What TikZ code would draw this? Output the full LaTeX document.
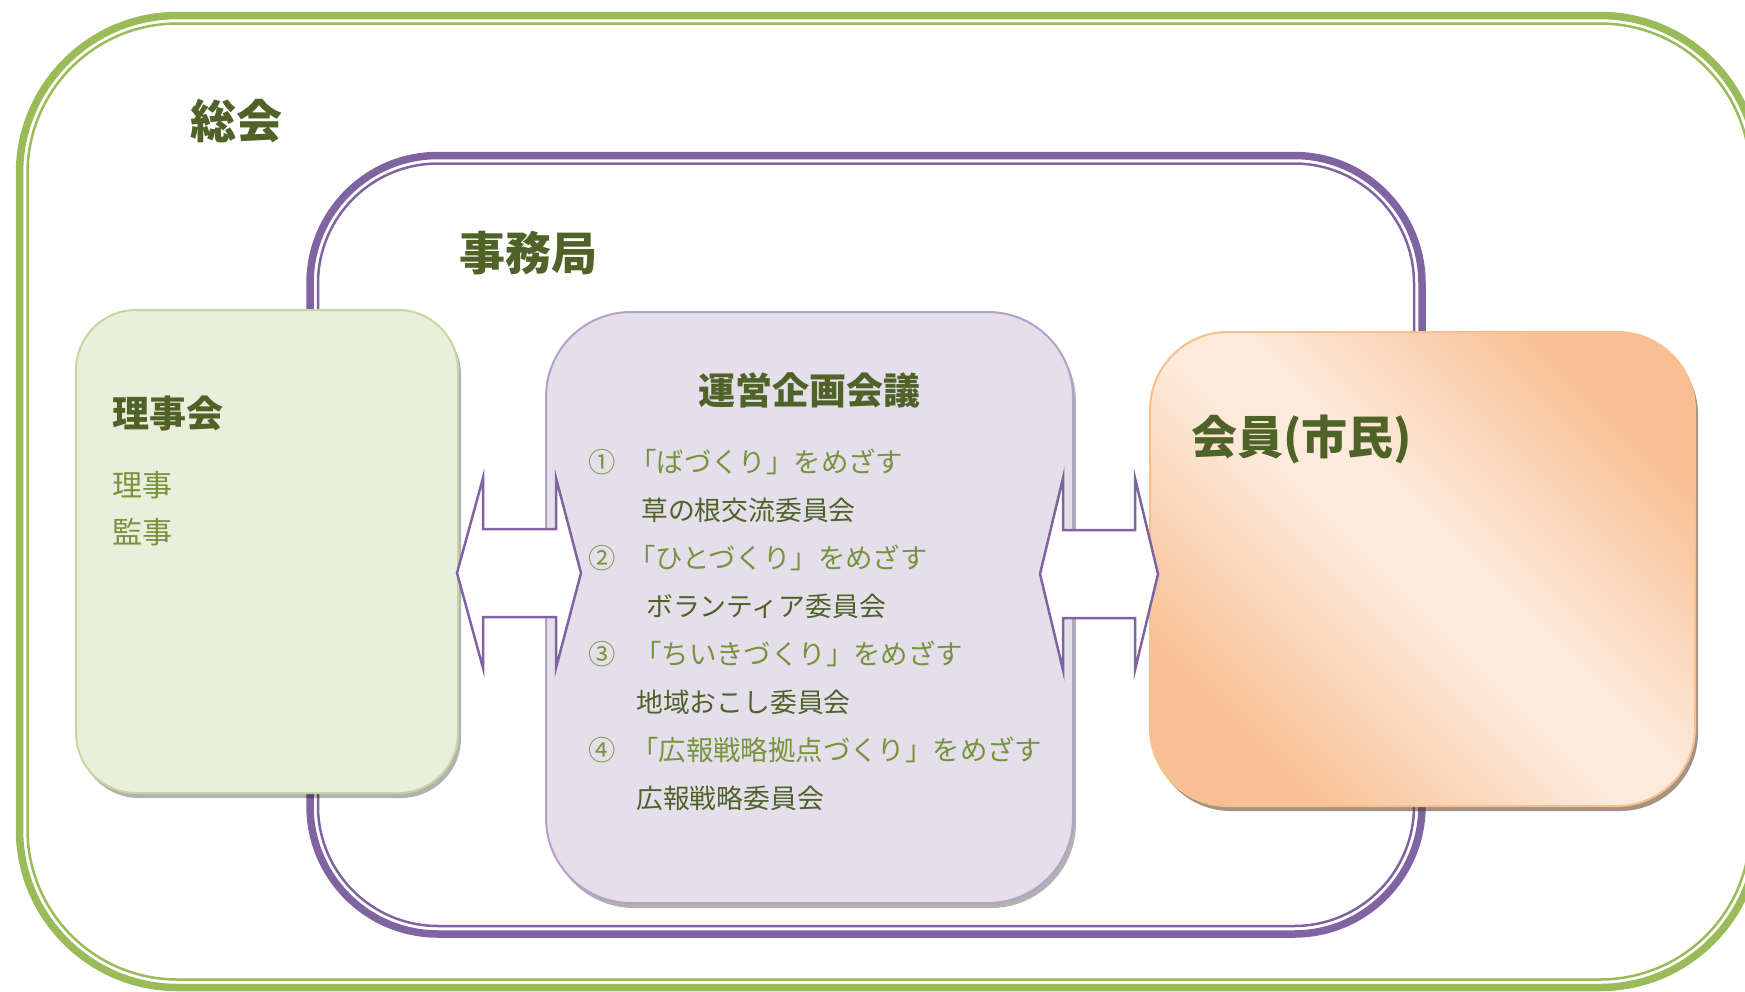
\documentclass[tikz,border=0pt]{standalone}
\usepackage{fontspec}
\newfontfamily\jp{Noto Sans CJK JP}
\usetikzlibrary{shadows,calc}
\definecolor{grn}{HTML}{9BBB59}
\definecolor{pur}{HTML}{8064A2}
\definecolor{dkgrn}{HTML}{4F6228}
\definecolor{olv}{HTML}{77933C}
\definecolor{gfill}{HTML}{EAEFDD}
\definecolor{gline}{HTML}{C4D79E}
\definecolor{pfill}{HTML}{E5DFEC}
\definecolor{pline}{HTML}{B3A2C7}
\definecolor{oA}{HTML}{F8BF92}
\definecolor{oL}{HTML}{FDEADB}
\definecolor{oline}{HTML}{F9C08F}
\pgfdeclareverticalshading{orgshade}{100bp}{color(0bp)=(oA); color(25bp)=(oA); color(47bp)=(oL); color(54bp)=(oL); color(75bp)=(oA); color(100bp)=(oA)}
\tikzset{
  bigtitle/.style={inner sep=0pt, text=dkgrn, font=\jp\bfseries\fontsize{46bp}{54bp}\selectfont},
  midtitle/.style={inner sep=0pt, text=dkgrn, font=\jp\bfseries\fontsize{37bp}{44bp}\selectfont},
  subitem/.style={inner sep=0pt, text=olv, font=\jp\fontsize{30bp}{36bp}\selectfont, anchor=west},
  goal/.style={inner sep=0pt, text=olv, font=\jp\fontsize{27.4bp}{32bp}\selectfont, anchor=west},
  cmte/.style={inner sep=0pt, text=dkgrn, font=\jp\fontsize{26.8bp}{32bp}\selectfont, anchor=west},
  panel/.style={rectangle, inner sep=0pt, outer sep=0pt, line width=2bp,
     drop shadow={shadow xshift=3bp, shadow yshift=-5bp, fill=black, opacity=.3}},
  blockarrow/.style={draw=pur, fill=white, line width=2.5bp, line join=miter},
}
\begin{document}
\begin{tikzpicture}[x=1bp,y=-1bp]
\useasboundingbox (0,0) rectangle (1745,991);
\clip (0,0) rectangle (1745,991);
% outer frame (総会)
\draw[grn, line width=7.5bp, rounded corners=158bp] (19.5,15.5) rectangle (1758,987.5);
\draw[grn, line width=2.5bp, rounded corners=150bp] (27.5,23.5) rectangle (1750,979.5);
\node[bigtitle] (sokai) at (236,121) {総会};
% purple frame (事務局)
\draw[pur, line width=7.5bp, rounded corners=128bp] (310,155.5) rectangle (1422,934);
\draw[pur, line width=2.5bp, rounded corners=120bp] (318,163.5) rectangle (1414,926);
\node[bigtitle] (jimu) at (528,253) {事務局};
% left panel
\node[panel, draw=gline, fill=gfill, rounded corners=60bp, minimum width=382bp, minimum height=483bp] (riji) at (267,551.5) {};
\node[midtitle, anchor=west] (rijikai) at (112,413) {理事会};
\node[subitem] (r1) at (112,485) {理事};
\node[subitem] (r2) at (112,532) {監事};
% middle panel
\node[panel, draw=pline, fill=pfill, rounded corners=85bp, minimum width=527bp, minimum height=591bp] (unei) at (809.5,607.5) {};
\node[midtitle] (uneititle) at (809,390) {運営企画会議};
\node[goal] (n1) at (588,462) {①};
\node[goal] (g1) at (629,462) {「ばづくり」をめざす};
\node[cmte] (c1) at (641,510) {草の根交流委員会};
\node[goal] (n2) at (588,558) {②};
\node[goal] (g2) at (628,558) {「ひとづくり」をめざす};
\node[cmte] (c2) at (646,606) {ボランティア委員会};
\node[goal] (n3) at (588,654) {③};
\node[goal] (g3) at (634,654) {「ちいきづくり」をめざす};
\node[cmte] (c3) at (636,702) {地域おこし委員会};
\node[goal] (n4) at (588,750) {④};
\node[goal] (g4) at (631,750) {「広報戦略拠点づくり」をめざす};
\node[cmte] (c4) at (636,798) {広報戦略委員会};
% right panel
\node[panel, draw=oline, shading=orgshade, shading angle=-45,
      rounded corners=78bp, minimum width=545bp, minimum height=474bp,
      drop shadow={shadow xshift=3bp, shadow yshift=-5bp, fill=brown!70!black, opacity=.35}] (kaiin) at (1422.5,569) {};
\node[bigtitle, anchor=west] (kaiintitle) at (1191,439) {会員(市民)};
% block arrows
\coordinate (la) at (519,573);
\draw[blockarrow] ($(la)+(-62,0)$) -- ++(26,-95) -- ++(0,51) -- ++(73,0) -- ++(0,-51) -- ++(25,95)
   -- ++(-25,95) -- ++(0,-51) -- ++(-73,0) -- ++(0,51) -- cycle;
\coordinate (ra) at (1099,574);
\draw[blockarrow] ($(ra)+(-59,0)$) -- ++(23,-96) -- ++(0,52) -- ++(72,0) -- ++(0,-52) -- ++(23,96)
   -- ++(-23,96) -- ++(0,-52) -- ++(-72,0) -- ++(0,52) -- cycle;
\end{tikzpicture}
\end{document}
